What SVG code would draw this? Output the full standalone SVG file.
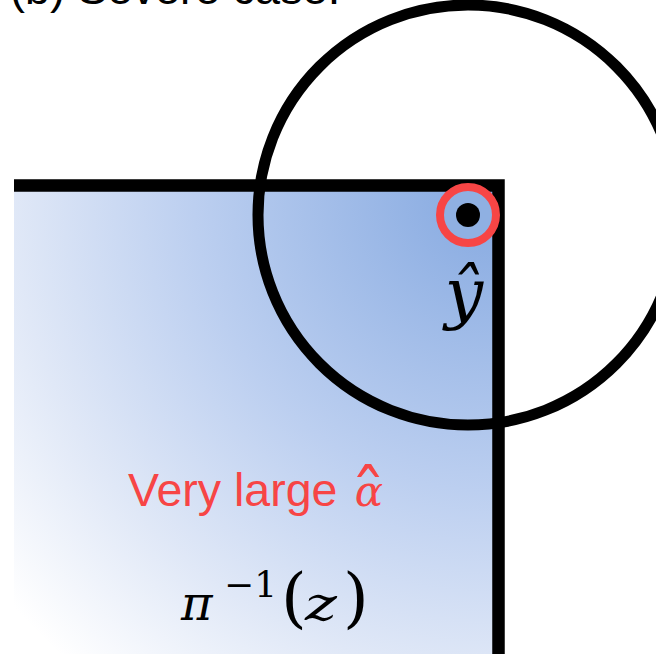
<svg xmlns="http://www.w3.org/2000/svg" width="656" height="654" viewBox="0 0 656 654">
<style>
.blk{fill:none;stroke:#000;}
.math{font-family:"DejaVu Serif","Liberation Serif",serif;font-style:italic;}
.up{font-family:"DejaVu Serif","Liberation Serif",serif;font-style:normal;}
.sans{font-family:"Liberation Sans","Open Sans",sans-serif;}
</style>
<defs>
<radialGradient id="g" gradientUnits="userSpaceOnUse" cx="495" cy="190" r="670">
<stop offset="0" stop-color="#84a8e0"/>
<stop offset="0.45" stop-color="#bccff0"/>
<stop offset="0.72" stop-color="#e0e8f7"/>
<stop offset="0.95" stop-color="#ffffff"/>
</radialGradient>
</defs>
<rect width="656" height="654" fill="#fff"/>
<text class="sans" x="10" y="4" font-size="45" fill="#000">(b) Severe case.</text>
<g id="region">
<rect x="14" y="186" width="485" height="470" fill="url(#g)"/>
<path class="blk" d="M14 185.5 H498.5 V654" stroke-width="12.5"/>
</g>
<g id="ball">
<circle class="blk" cx="468" cy="215" r="210" stroke-width="11"/>
</g>
<g id="point">
<circle cx="468" cy="215" r="28" fill="#8fb0e2" stroke="#f74545" stroke-width="8"/>
<circle cx="468" cy="215" r="12" fill="#000"/>
<text class="math" x="464" y="316" font-size="68" text-anchor="middle" fill="#000">ŷ</text>
</g>
<g id="labels">
<text class="sans" x="128" y="506" font-size="46.5" fill="#f74545">Very large</text>
<text class="math" x="369" y="506" font-size="42" text-anchor="middle" fill="#f74545">α</text>
<text class="up" transform="translate(368,521) scale(1.3)" font-size="55" text-anchor="middle" fill="#f74545">ˆ</text>
<text class="math" x="181" y="620" font-size="48" fill="#000">π</text>
<text class="up" x="224" y="597" font-size="36" fill="#000">−1</text>
<text class="up" x="281" y="620" font-size="66" fill="#000">(</text>
<text class="math" x="305" y="620" font-size="46" textLength="32" lengthAdjust="spacingAndGlyphs" fill="#000">z</text>
<text class="up" x="343" y="620" font-size="66" fill="#000">)</text>
</g>
</svg>
